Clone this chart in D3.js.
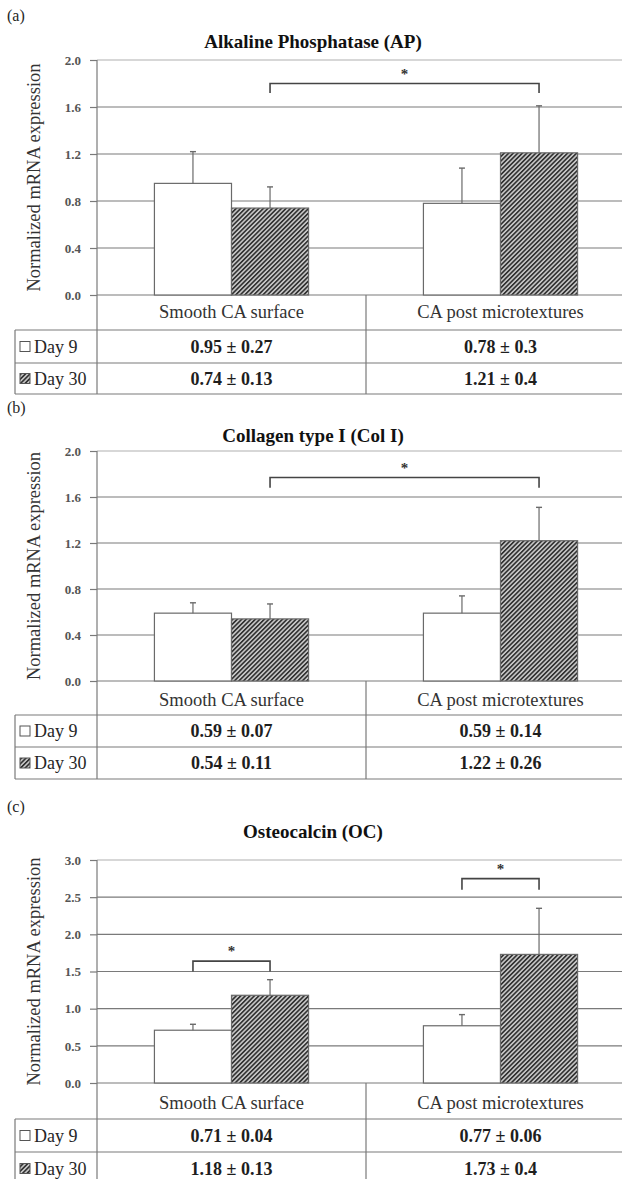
<!DOCTYPE html>
<html><head><meta charset="utf-8">
<script src="https://cdn.jsdelivr.net/npm/d3@7"></script>
<style>
html,body{margin:0;padding:0;background:#fff;}
svg{display:block;}
</style></head>
<body>
<script>
// ---------- DATA ----------
const categories = ["Smooth CA surface", "CA post microtextures"];
const seriesNames = ["Day 9", "Day 30"];

const apTitle = "Alkaline Phosphatase (AP)";
const apDay9 = [0.95, 0.78];
const apDay30 = [0.74, 1.21];
const apErr9 = [0.27, 0.30];
const apErr30 = [0.18, 0.40];
const apTable9 = ["0.95 ± 0.27", "0.78 ± 0.3"];
const apTable30 = ["0.74 ± 0.13", "1.21 ± 0.4"];
const apTicks = [0.0, 0.4, 0.8, 1.2, 1.6, 2.0];
const apBrackets = [[0, 1, 1, 1, 1.80, 1.72, 1.90]]; // cat1,ser1,cat2,ser2,level,drop,star

const colTitle = "Collagen type I (Col I)";
const colDay9 = [0.59, 0.59];
const colDay30 = [0.54, 1.22];
const colErr9 = [0.09, 0.15];
const colErr30 = [0.13, 0.29];
const colTable9 = ["0.59 ± 0.07", "0.59 ± 0.14"];
const colTable30 = ["0.54 ± 0.11", "1.22 ± 0.26"];
const colTicks = [0.0, 0.4, 0.8, 1.2, 1.6, 2.0];
const colBrackets = [[0, 1, 1, 1, 1.77, 1.68, 1.87]];

const ocTitle = "Osteocalcin (OC)";
const ocDay9 = [0.71, 0.77];
const ocDay30 = [1.18, 1.73];
const ocErr9 = [0.08, 0.15];
const ocErr30 = [0.21, 0.62];
const ocTable9 = ["0.71 ± 0.04", "0.77 ± 0.06"];
const ocTable30 = ["1.18 ± 0.13", "1.73 ± 0.4"];
const ocTicks = [0.0, 0.5, 1.0, 1.5, 2.0, 2.5, 3.0];
const ocBrackets = [[0, 0, 0, 1, 1.64, 1.50, 1.80], [1, 0, 1, 1, 2.75, 2.60, 2.90]];

const yLabel = "Normalized mRNA expression";

// ---------- LAYOUT ----------
const W = 622, H = 1179;
const FONT = "'Liberation Serif', 'Times New Roman', Times, 'DejaVu Serif', serif";
const panels = [
  {tag:"(a)", title:apTitle, v9:apDay9, v30:apDay30, e9:apErr9, e30:apErr30, t9:apTable9, t30:apTable30, ticks:apTicks, brackets:apBrackets,
   tagY:21, titleY:48, top:60, zero:295, catY:318, tTop:330, tMid:363, tBot:394},
  {tag:"(b)", title:colTitle, v9:colDay9, v30:colDay30, e9:colErr9, e30:colErr30, t9:colTable9, t30:colTable30, ticks:colTicks, brackets:colBrackets,
   tagY:413, titleY:442, top:451, zero:681, catY:706, tTop:715, tMid:747, tBot:779},
  {tag:"(c)", title:ocTitle, v9:ocDay9, v30:ocDay30, e9:ocErr9, e30:ocErr30, t9:ocTable9, t30:ocTable30, ticks:ocTicks, brackets:ocBrackets,
   tagY:812, titleY:838, top:860, zero:1083, catY:1109, tTop:1119, tMid:1152, tBot:1185}
];
const axisX = 97, plotRight = 635, tableLeft = 15;
const lineCol = "#7a7a7a", textCol = "#262626";

const svg = d3.select("body").append("svg").attr("width", W).attr("height", H)
  .style("font-family", FONT);
const defs = svg.append("defs");
const pat = defs.append("pattern").attr("id","hatch").attr("patternUnits","userSpaceOnUse")
  .attr("width",3.2).attr("height",3.2).attr("patternTransform","rotate(45)");
pat.append("rect").attr("width",3.2).attr("height",3.2).attr("fill","#cbcbcb");
pat.append("line").attr("x1",0.8).attr("y1",0).attr("x2",0.8).attr("y2",3.2).attr("stroke","#333").attr("stroke-width",1.75);

const x0 = d3.scaleBand().domain(categories).range([axisX, plotRight]).padding(0);
const x1 = d3.scaleBand().domain(seriesNames).range([0, x0.bandwidth()]).paddingInner(0).paddingOuter(0.745);

panels.forEach(p => {
  const g = svg.append("g");
  const maxV = p.ticks[p.ticks.length-1];
  const y = d3.scaleLinear().domain([0, maxV]).range([p.zero, p.top]);

  g.append("text").attr("x", 7).attr("y", p.tagY).attr("font-size", 16).attr("fill", textCol).text(p.tag);
  g.append("text").attr("x", 313).attr("y", p.titleY).attr("text-anchor","middle")
    .attr("font-size", 19).attr("font-weight","bold").attr("fill","#111").text(p.title);

  // gridlines
  g.selectAll(".grid").data(p.ticks).join("line")
    .attr("x1", axisX).attr("x2", plotRight)
    .attr("y1", d => y(d)).attr("y2", d => y(d))
    .attr("stroke", d => d === maxV ? "#b0b0b0" : lineCol).attr("stroke-width", 1.2);

  // y axis
  const ax = g.append("g").attr("transform", `translate(${axisX},0)`)
    .call(d3.axisLeft(y).tickValues(p.ticks).tickFormat(d3.format(".1f")).tickSize(7).tickPadding(9));
  ax.select(".domain").remove();
  ax.selectAll(".tick line").attr("stroke", lineCol).attr("stroke-width", 1.2);
  ax.selectAll(".tick text").attr("font-family", FONT).attr("font-size", 13)
    .attr("font-weight","bold").attr("fill","#555");

  g.append("text").attr("transform", `translate(40,${(p.top + p.zero)/2}) rotate(-90)`)
    .attr("text-anchor","middle").attr("font-size", 18.5).attr("fill","#333").text(yLabel);

  // bars
  const rows = [
    {s:"Day 9", vals:p.v9, errs:p.e9, fill:"#ffffff"},
    {s:"Day 30", vals:p.v30, errs:p.e30, fill:"url(#hatch)"}
  ];
  rows.forEach(r => {
    const bg = g.append("g");
    bg.selectAll("rect").data(categories).join("rect")
      .attr("x", c => x0(c) + x1(r.s)).attr("width", x1.bandwidth())
      .attr("y", (c,i) => y(r.vals[i])).attr("height", (c,i) => p.zero - y(r.vals[i]))
      .attr("fill", r.fill).attr("stroke", "#6a6a6a").attr("stroke-width", 1.2);
    bg.selectAll(".err").data(categories).join("line")
      .attr("x1", c => x0(c) + x1(r.s) + x1.bandwidth()/2).attr("x2", c => x0(c) + x1(r.s) + x1.bandwidth()/2)
      .attr("y1", (c,i) => y(r.vals[i])).attr("y2", (c,i) => y(r.vals[i] + r.errs[i]))
      .attr("stroke", "#6a6a6a").attr("stroke-width", 1.2);
    bg.selectAll(".cap").data(categories).join("line")
      .attr("x1", c => x0(c) + x1(r.s) + x1.bandwidth()/2 - 3).attr("x2", c => x0(c) + x1(r.s) + x1.bandwidth()/2 + 3)
      .attr("y1", (c,i) => y(r.vals[i] + r.errs[i])).attr("y2", (c,i) => y(r.vals[i] + r.errs[i]))
      .attr("stroke", "#6a6a6a").attr("stroke-width", 1.4);
  });

  // significance brackets
  p.brackets.forEach(b => {
    const xa = x0(categories[b[0]]) + x1(seriesNames[b[1]]) + x1.bandwidth()/2;
    const xb = x0(categories[b[2]]) + x1(seriesNames[b[3]]) + x1.bandwidth()/2;
    g.append("path").attr("d", `M${xa},${y(b[5])}V${y(b[4])}H${xb}V${y(b[5])}`)
      .attr("fill","none").attr("stroke","#444").attr("stroke-width",1.6);
    g.append("text").attr("x", (xa+xb)/2).attr("y", y(b[6]) + 7).attr("text-anchor","middle")
      .attr("font-size", 15).attr("font-weight","bold").attr("fill","#333").text("*");
  });

  // axis line continuing into the table
  g.append("line").attr("x1", axisX).attr("x2", axisX).attr("y1", p.top).attr("y2", p.tBot)
    .attr("stroke", lineCol).attr("stroke-width", 1.2);
  // category separators
  g.selectAll(".sep").data(categories).join("line")
    .attr("x1", c => x0(c) + x0.bandwidth()).attr("x2", c => x0(c) + x0.bandwidth())
    .attr("y1", p.zero).attr("y2", p.tBot).attr("stroke", lineCol).attr("stroke-width", 1.2);
  // table horizontal lines
  [p.tTop, p.tMid, p.tBot].forEach(yy => {
    g.append("line").attr("x1", tableLeft).attr("x2", plotRight).attr("y1", yy).attr("y2", yy)
      .attr("stroke", lineCol).attr("stroke-width", 1.2);
  });
  g.append("line").attr("x1", tableLeft).attr("x2", tableLeft).attr("y1", p.tTop).attr("y2", p.tBot)
    .attr("stroke", lineCol).attr("stroke-width", 1.2);

  // category labels
  g.selectAll(".cat").data(categories).join("text")
    .attr("x", c => x0(c) + x0.bandwidth()/2).attr("y", p.catY).attr("text-anchor","middle")
    .attr("font-size", 18.5).attr("fill","#333").text(c => c);

  // table rows
  const rowY = [(p.tTop + p.tMid)/2 + 6, (p.tMid + p.tBot)/2 + 6];
  [p.t9, p.t30].forEach((vals, ri) => {
    g.selectAll(".tv"+ri).data(categories).join("text")
      .attr("x", c => x0(c) + x0.bandwidth()/2).attr("y", rowY[ri]).attr("text-anchor","middle")
      .attr("font-size", 18).attr("font-weight","bold").attr("fill","#1e1e1e").text((c,i) => vals[i]);
    g.append("rect").attr("x", 20).attr("y", rowY[ri] - 11).attr("width", 10).attr("height", 10)
      .attr("fill", ri === 0 ? "#fff" : "url(#hatch)").attr("stroke", "#555").attr("stroke-width", 1);
    g.append("text").attr("x", 34).attr("y", rowY[ri]).attr("font-size", 18).attr("fill", textCol)
      .text(seriesNames[ri]);
  });
});
</script>
</body></html>
